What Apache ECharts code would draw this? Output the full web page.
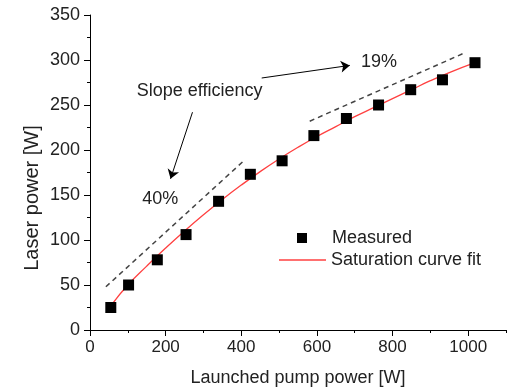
<!DOCTYPE html>
<html>
<head>
<meta charset="utf-8">
<script src="https://cdn.jsdelivr.net/npm/echarts@6/dist/echarts.min.js"></script>
<style>
  html, body { margin: 0; padding: 0; background: #fff; }
  #chart { width: 509px; height: 392px; }
</style>
</head>
<body>
<div id="chart"></div>
<script>
// measured points
const pumpPower = [55, 102, 178, 254, 340, 424, 508, 592, 678, 763, 848, 932, 1018]
const laserPower = [25, 50, 78, 106, 143, 173, 188, 216, 235, 250, 267, 278, 297]

// saturation curve fit
const fitX = [57, 100, 150, 200, 250, 300, 350, 400, 450, 500, 550, 600, 650, 700, 750, 800, 850, 900, 950, 1018]
const fitY = [28, 50, 71, 91, 110, 128, 145, 161, 176, 190, 203, 215, 226, 237, 247, 257, 267, 277, 286, 297]

// slope efficiency guide lines
const slope40X = [42, 404]
const slope40Y = [48, 187]
const slope19X = [581, 991]
const slope19Y = [232, 308]

// annotations
const notes = [
  { name: 'Slope efficiency', value: [290, 265] },
  { name: '19%', value: [764, 298] },
  { name: '40%', value: [186, 145] },
]
const arrows = [
  [[271, 242], [213, 168]],
  [[454, 280], [687, 294]],
]

const xMajor = [0, 200, 400, 600, 800, 1000]
const xMinor = [100, 300, 500, 700, 900, 1100]

const font = 'Liberation Sans, Arial, sans-serif'
const ink = '#222'

// square in the middle of a 50x10 box, tiny corner specks fix the box size
const squareIcon = 'path://M0,0L0.01,0L0,0.01Z M20,0h10v10h-10Z M50,10L49.99,10L50,9.99Z'

const chart = echarts.init(document.getElementById('chart'), null, { renderer: 'canvas' })

const pairs = (xs, ys) => xs.map((x, i) => [x, ys[i]])

const option = {
  backgroundColor: '#fff',
  animation: false,
  textStyle: { fontFamily: font, color: ink },
  grid: { left: 90, top: 15, right: 3, bottom: 59, containLabel: false },
  legend: [
    {
      data: [{ name: 'Measured', icon: squareIcon }],
      left: 277, top: 229, padding: 0,
      itemWidth: 50, itemHeight: 10, itemGap: 0,
      symbolKeepAspect: false,
      itemStyle: { opacity: 1 },
      textStyle: { fontSize: 18, lineHeight: 18, color: ink, fontFamily: font },
      selectedMode: false,
    },
    {
      data: [{ name: 'Saturation curve fit', icon: 'rect' }],
      left: 279, top: 251, padding: 0,
      itemWidth: 47, itemHeight: 1.5, itemGap: 0,
      textStyle: { fontSize: 18, lineHeight: 18, color: ink, fontFamily: font },
      selectedMode: false,
    },
  ],
  xAxis: [
    {
      type: 'value',
      min: 0, max: 1100, interval: 100,
      name: 'Launched pump power [W]',
      nameLocation: 'middle',
      nameGap: 39,
      nameTextStyle: { fontSize: 18, color: ink, fontFamily: font },
      splitLine: { show: false },
      axisLine: { show: true, onZero: false, lineStyle: { color: '#000', width: 1 } },
      axisTick: { show: true, customValues: xMajor, length: 6, lineStyle: { color: '#000' } },
      axisLabel: { customValues: xMajor, formatter: v => String(v), fontSize: 17, color: ink, margin: 9, fontFamily: font },
    },
    {
      type: 'value',
      min: 0, max: 1100, interval: 100,
      position: 'bottom',
      splitLine: { show: false },
      axisLine: { show: false, onZero: false },
      axisTick: { show: true, customValues: xMinor, length: 3, lineStyle: { color: '#000' } },
      axisLabel: { show: false },
    },
  ],
  yAxis: {
    type: 'value',
    min: 0, max: 350, interval: 50,
    splitLine: { show: false },
    axisLine: { show: true, onZero: false, lineStyle: { color: '#000', width: 1 } },
    axisTick: { show: true, length: 6, lineStyle: { color: '#000' } },
    minorTick: { show: true, splitNumber: 2, length: 3, lineStyle: { color: '#000' } },
    axisLabel: { fontSize: 18, color: ink, margin: 10, fontFamily: font },
  },
  graphic: [
    {
      type: 'text',
      x: 32, y: 198,
      rotation: Math.PI / 2,
      style: {
        text: 'Laser power [W]',
        font: '20px ' + font,
        fill: ink,
        align: 'center',
        verticalAlign: 'middle',
      },
    },
  ],
  series: [
    {
      name: '40% slope',
      type: 'line',
      data: pairs(slope40X, slope40Y),
      symbol: 'none',
      silent: true,
      lineStyle: { color: '#444', width: 1.5, type: [5, 4] },
    },
    {
      name: '19% slope',
      type: 'line',
      data: pairs(slope19X, slope19Y),
      symbol: 'none',
      silent: true,
      lineStyle: { color: '#444', width: 1.5, type: [5, 4] },
    },
    {
      name: 'Saturation curve fit',
      type: 'line',
      data: pairs(fitX, fitY),
      symbol: 'none',
      smooth: true,
      silent: true,
      itemStyle: { color: '#ff4040' },
      lineStyle: { color: '#ff4040', width: 1.3 },
    },
    {
      name: 'Measured',
      type: 'scatter',
      data: pairs(pumpPower, laserPower),
      symbol: 'rect',
      symbolSize: 11,
      itemStyle: { color: '#000', opacity: 1 },
      z: 5,
    },
    {
      name: 'notes',
      type: 'scatter',
      data: notes,
      symbolSize: 0,
      silent: true,
      itemStyle: { opacity: 1 },
      label: {
        show: true,
        position: 'inside',
        formatter: '{b}',
        fontSize: 18,
        color: ink,
        opacity: 1,
        fontFamily: font,
      },
      markLine: {
        silent: true,
        symbol: ['none', 'arrow'],
        symbolSize: 9,
        label: { show: false },
        lineStyle: { color: '#000', width: 1, type: 'solid', opacity: 1 },
        data: arrows.map(([a, b]) => [{ coord: a }, { coord: b }]),
      },
    },
  ],
}

chart.setOption(option)
</script>
</body>
</html>
